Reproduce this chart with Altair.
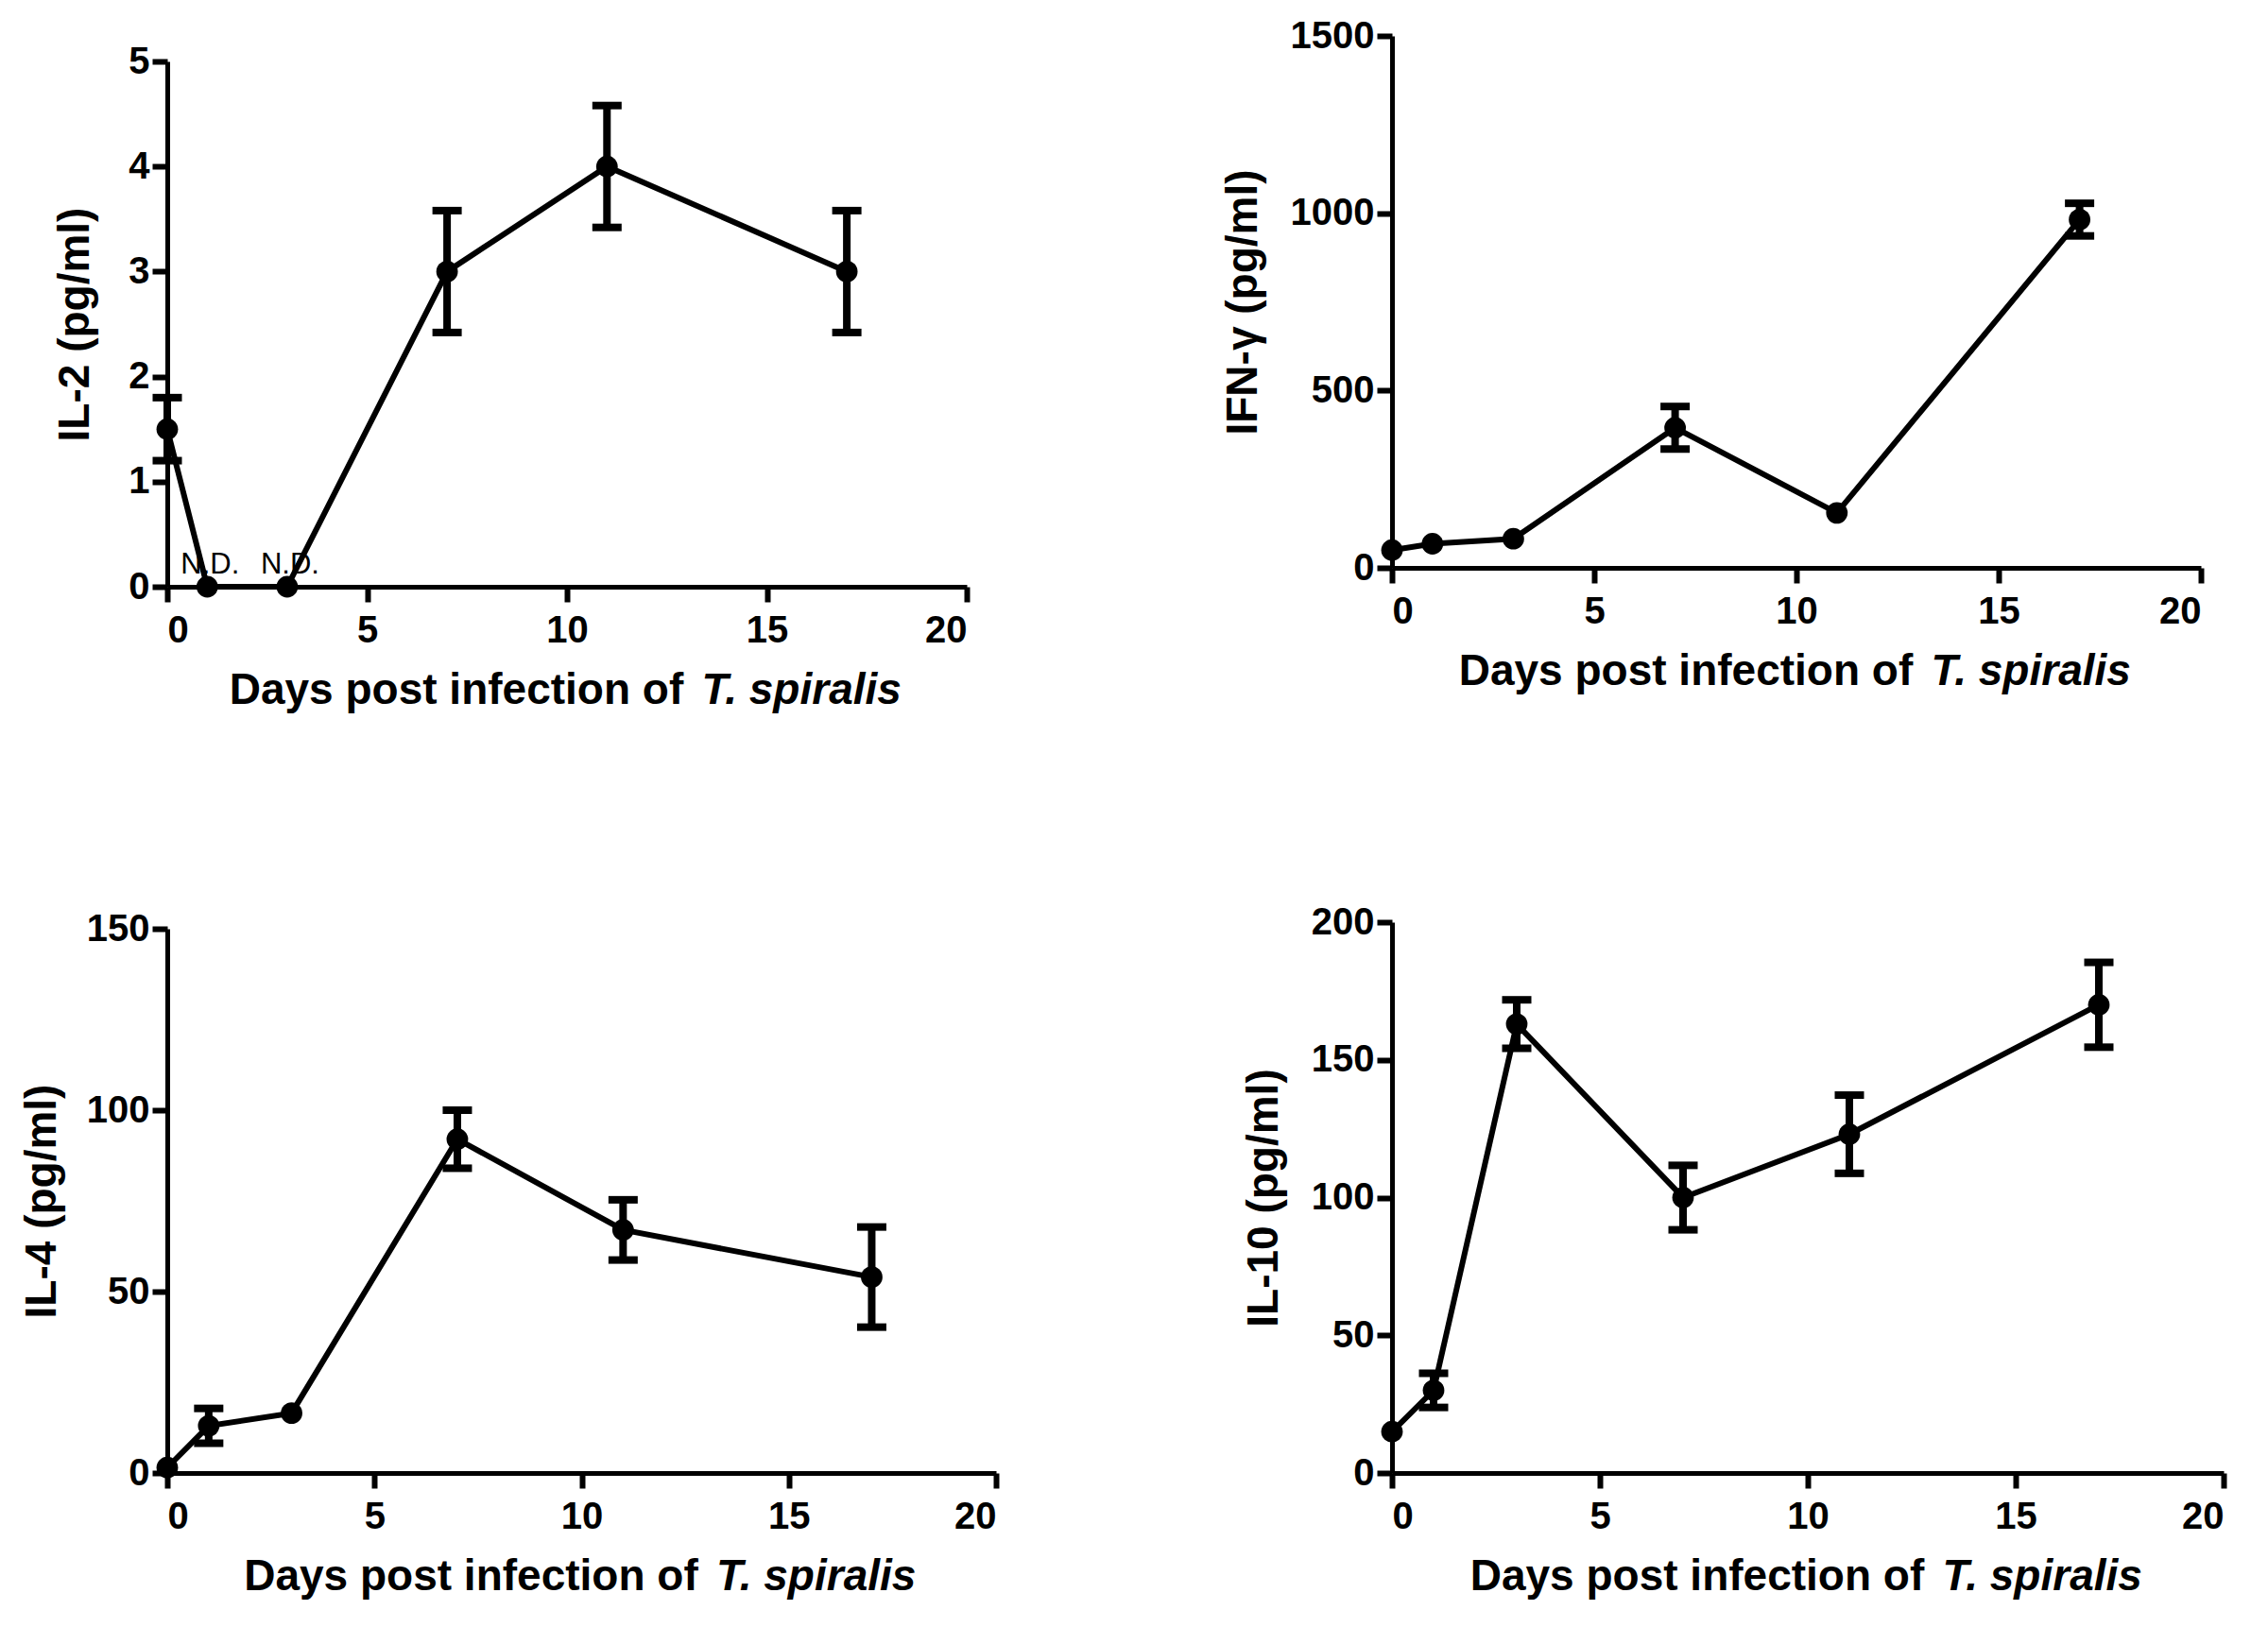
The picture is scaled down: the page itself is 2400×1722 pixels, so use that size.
import altair as alt
import pandas as pd

days = [0, 1, 3, 7, 11, 17]

il2 = [1.5, 0, 0, 3.0, 4.0, 3.0]
il2_err = [0.3, 0, 0, 0.58, 0.58, 0.58]

ifn = [50, 68, 82, 395, 155, 982]
ifn_err = [0, 0, 0, 60, 0, 46]

il4 = [1.5, 13, 16.5, 92, 67, 54]
il4_err = [0, 4.8, 0, 8, 8.3, 13.8]

il10 = [15, 30, 163, 100, 123, 170]
il10_err = [0, 6.2, 8.8, 11.7, 14.2, 15.4]

nd_days = [1, 3]
nd_text = ["N.D.", "N.D."]

x_ticks = [0, 5, 10, 15, 20]
XT1 = "Days post infection of"
XT2 = "T. spiralis"

FONT = "Liberation Sans, Arial, sans-serif"
TFS = 46


def panel(vals, errs, ytitle, ymax, ystep, w, h, ypad, yrange=None, nd=False):
    df = pd.DataFrame({"day": days, "value": vals, "err": errs})
    df["lo"] = df["value"] - df["err"]
    df["hi"] = df["value"] + df["err"]
    edf = df[df["err"] > 0]

    sc = dict(domain=[0, ymax], nice=False)
    if yrange is not None:
        sc["range"] = yrange
    yscale = alt.Scale(**sc)
    xscale = alt.Scale(domain=[0, 20], nice=False)
    xaxis = alt.Axis(values=x_ticks, title=None, labelPadding=10, tickSize=16, format="d")
    yaxis = alt.Axis(values=list(range(0, ymax + 1, ystep)), title=ytitle, format="d",
                     titlePadding=ypad, labelPadding=3, tickSize=16)

    def X(f):
        return alt.X(f"{f}:Q", scale=xscale, axis=xaxis)

    def Y(f):
        return alt.Y(f"{f}:Q", scale=yscale, axis=yaxis)

    base = alt.Chart(df)
    line = base.mark_line(color="black", strokeWidth=6).encode(x=X("day"), y=Y("value"))
    pts = base.mark_circle(color="black", size=520, opacity=1).encode(x=X("day"), y=Y("value"))
    eb = alt.Chart(edf)
    rule = eb.mark_rule(color="black", strokeWidth=8).encode(x=X("day"), y=Y("lo"), y2="hi:Q")
    cap_lo = eb.mark_tick(color="black", orient="horizontal", size=31, thickness=8, opacity=1).encode(
        x=X("day"), y=Y("lo"))
    cap_hi = eb.mark_tick(color="black", orient="horizontal", size=31, thickness=8, opacity=1).encode(
        x=X("day"), y=Y("hi"))

    c = w / 2
    w1 = 10.446 * TFS
    w2 = 4.669 * TFS
    gap = 0.42 * TFS
    start = c - (w1 + gap + w2) / 2
    t1 = alt.Chart(pd.DataFrame({"t": [XT1]})).mark_text(
        align="right", baseline="alphabetic", font=FONT, fontSize=TFS, fontWeight="bold", color="black"
    ).encode(text="t:N", x=alt.value(start + w1), y=alt.value(h + 124))
    t2 = alt.Chart(pd.DataFrame({"t": [XT2]})).mark_text(
        align="left", baseline="alphabetic", font=FONT, fontSize=TFS, fontWeight="bold",
        fontStyle="italic", color="black"
    ).encode(text="t:N", x=alt.value(start + w1 + gap), y=alt.value(h + 124))

    layers = [line, rule, cap_lo, cap_hi, pts, t1, t2]
    if nd:
        ndf = pd.DataFrame({"day": nd_days, "value": [0, 0], "t": nd_text})
        ndt = alt.Chart(ndf).mark_text(
            align="center", baseline="bottom", dy=-7, dx=3, font=FONT, fontSize=31, color="black"
        ).encode(x=X("day"), y=Y("value"), text="t:N")
        layers.append(ndt)
    return alt.layer(*layers).properties(width=w, height=h)


p1 = panel(il2, il2_err, "IL-2 (pg/ml)", 5, 1, 846, 583, 32, yrange=[583, 27], nd=True)
p2 = panel(ifn, ifn_err, "IFN-γ (pg/ml)", 1500, 500, 856, 563, 26)
p3 = panel(il4, il4_err, "IL-4 (pg/ml)", 150, 50, 877, 583, 23, yrange=[583, 7])
p4 = panel(il10, il10_err, "IL-10 (pg/ml)", 200, 50, 880, 583, 26)

chart = alt.concat(p1, p2, p3, p4, columns=2, spacing={"row": 355, "column": 419},
                   bounds="flush").properties(
    padding={"left": 13, "top": 10, "right": 5, "bottom": 5}
).configure_view(stroke=None).configure_axis(
    grid=False,
    domainColor="black", domainWidth=5,
    tickColor="black", tickWidth=6,
    labelFont=FONT, labelFontSize=40, labelFontWeight="bold", labelColor="black",
    titleFont=FONT, titleFontSize=TFS, titleFontWeight="bold", titleColor="black",
).configure_axisY(labelBaseline="middle")

chart.save("out.html", embed_options={"renderer": "svg", "actions": False})
